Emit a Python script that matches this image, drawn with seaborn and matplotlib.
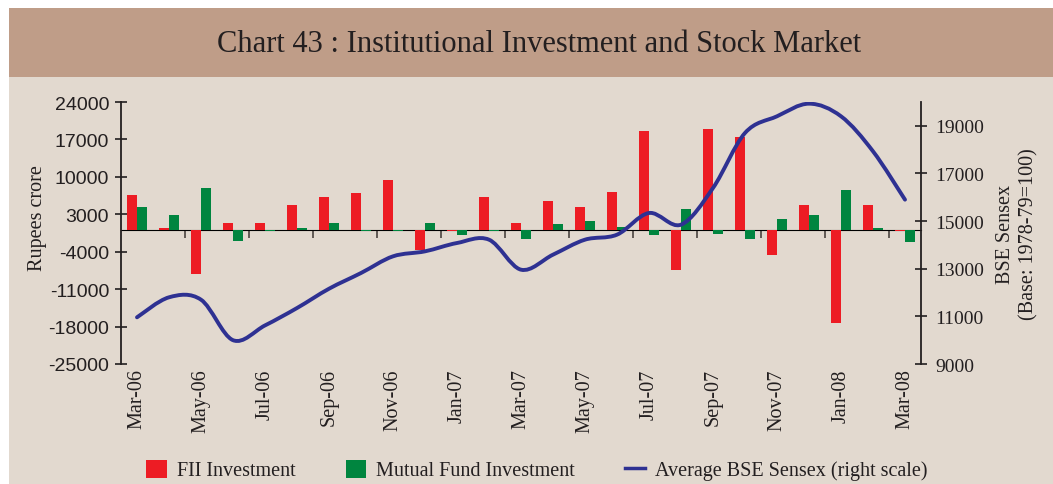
import numpy as np
import pandas as pd
import seaborn as sns
import matplotlib
matplotlib.use("Agg")
import matplotlib.pyplot as plt
from matplotlib.path import Path
from matplotlib.patches import PathPatch, Patch, Rectangle
from matplotlib.lines import Line2D

# months Mar-06 .. Mar-08
months = ["Mar-06", "Apr-06", "May-06", "Jun-06", "Jul-06", "Aug-06", "Sep-06",
          "Oct-06", "Nov-06", "Dec-06", "Jan-07", "Feb-07", "Mar-07", "Apr-07",
          "May-07", "Jun-07", "Jul-07", "Aug-07", "Sep-07", "Oct-07", "Nov-07",
          "Dec-07", "Jan-08", "Feb-08", "Mar-08"]

# Rupees crore
fii = [6700, 500, -8200, 1400, 1400, 4800, 6300, 6900, 9500, -3600, -100, 6300,
       1400, 5500, 4400, 7200, 18600, -7500, 19000, 17500, -4700, 4800, -17400,
       4800, -100]
mutual_fund = [4400, 2900, 8000, -2000, -100, 500, 1400, -200, -100, 1400, -900,
               -200, -1700, 1100, 1800, 700, -900, 4000, -600, -1700, 2200, 2900,
               7600, 500, -2100]

# Average BSE Sensex (right scale)
sensex = [10960, 11800, 11700, 10000, 10620, 11350, 12160, 12820, 13520, 13730,
          14080, 14220, 12960, 13590, 14220, 14430, 15340, 14850, 16390, 18700,
          19400, 19930, 19400, 17930, 15900]

left_ticks = [-25000, -18000, -11000, -4000, 3000, 10000, 17000, 24000]
right_ticks = [9000, 11000, 13000, 15000, 17000, 19000]

RED = "#ed1c24"
GREEN = "#00853f"
NAVY = "#2e3192"
BG = "#e2d9cf"
BAND = "#bf9d88"
INK = "#231f20"
SERIF = ["Liberation Serif", "DejaVu Serif"]

df = pd.DataFrame({
    "month": months * 2,
    "value": fii + mutual_fund,
    "series": ["FII Investment"] * len(months) + ["Mutual Fund Investment"] * len(months),
})

fig = plt.figure(figsize=(10.53, 4.85), dpi=100)
fig.patch.set_facecolor("white")
W, H = 1053, 485
fig.add_artist(Rectangle((9 / W, 0), 1, 1 - 9 / H, transform=fig.transFigure,
                         facecolor=BG, edgecolor="none", zorder=0))
fig.add_artist(Rectangle((9 / W, 1 - 78 / H), 1, 69 / H, transform=fig.transFigure,
                         facecolor=BAND, edgecolor="none", zorder=0))
fig.text(539 / W, 1 - 45 / H, "Chart 43 : Institutional Investment and Stock Market",
         ha="center", va="center", fontsize=22, color=INK, family=SERIF)

ax = fig.add_axes([121 / W, 1 - 365 / H, 800 / W, 262 / H])
ax.patch.set_alpha(0)

sns.barplot(data=df, x="month", y="value", hue="series",
            palette=[RED, GREEN], width=0.6, saturation=1, legend=False, ax=ax)

ymin, ymax = -25000, 24000
ax.set_ylim(ymin, ymax)
ax.set_xlim(-0.5, len(months) - 0.5)
ax.set_yticks(left_ticks)
ax.set_yticklabels([str(t) for t in left_ticks], fontsize=14, color=INK,
                   family=["Liberation Sans", "DejaVu Sans"])
ax.tick_params(axis="y", direction="inout", length=9, width=1.2, color=INK, pad=4)
ax.set_xticks(range(0, len(months), 2))
ax.set_xticklabels(months[::2], rotation=90, fontsize=14.5, color=INK, family=SERIF)
ax.tick_params(axis="x", length=0, pad=3)
ax.set_xlabel("")
ax.set_ylabel("Rupees crore", fontsize=14.5, color=INK, family=SERIF)
ax.yaxis.set_label_coords(-0.093, 0.56)
for s in ["top", "bottom", "right"]:
    ax.spines[s].set_visible(False)
ax.spines["left"].set_color(INK)
ax.spines["left"].set_linewidth(1.3)

# zero line with small ticks between every second month
zero_loc = (0 - ymin) / (ymax - ymin)
sec = ax.secondary_xaxis(zero_loc)
sec.spines["bottom"].set_color("#6d6661")
sec.spines["bottom"].set_linewidth(1.6)
sec.set_xticks(np.arange(1.5, len(months), 2))
sec.set_xticklabels([])
sec.tick_params(axis="x", direction="in", length=6, width=1.2, color="#4a4440")

# right axis: smoothed sensex line
ax2 = ax.twinx()
ax2.set_ylim(9000, 20000)
ax2.set_yticks(right_ticks)
ax2.set_yticklabels([str(t) for t in right_ticks], fontsize=14, color=INK, family=SERIF)
ax2.tick_params(axis="y", direction="inout", length=9, width=1.2, color=INK, pad=6)
for s in ["top", "bottom", "left"]:
    ax2.spines[s].set_visible(False)
ax2.spines["right"].set_color(INK)
ax2.spines["right"].set_linewidth(1.3)
ax2.set_ylabel("BSE Sensex\n(Base: 1978-79=100)", fontsize=14.5, color=INK,
               family=SERIF, labelpad=8, linespacing=1.3)

x = np.arange(len(sensex), dtype=float)
y = np.array(sensex, dtype=float)
pts = np.column_stack([x, y])
ext = np.vstack([pts[0], pts, pts[-1]])
verts = [pts[0]]
codes = [Path.MOVETO]
for i in range(len(pts) - 1):
    p0, p1, p2, p3 = ext[i], ext[i + 1], ext[i + 2], ext[i + 3]
    verts += [p1 + (p2 - p0) / 6, p2 - (p3 - p1) / 6, p2]
    codes += [Path.CURVE4] * 3
ax2.add_patch(PathPatch(Path(verts, codes), facecolor="none", edgecolor=NAVY,
                        linewidth=2.8, capstyle="round", joinstyle="round"))

handles = [Patch(facecolor=RED, edgecolor="none"),
           Patch(facecolor=GREEN, edgecolor="none"),
           Line2D([], [], color=NAVY, linewidth=2.5)]
labels = ["FII Investment", "Mutual Fund Investment", "Average BSE Sensex (right scale)"]
fig.legend(handles, labels, loc="center", bbox_to_anchor=(537 / W, 1 - 471 / H),
           ncol=3, frameon=False, prop={"family": SERIF, "size": 14.5},
           handlelength=1.0, handleheight=1.0, handletextpad=0.5, columnspacing=2.5,
           labelcolor=INK)

fig.savefig("out.png", dpi=100)
